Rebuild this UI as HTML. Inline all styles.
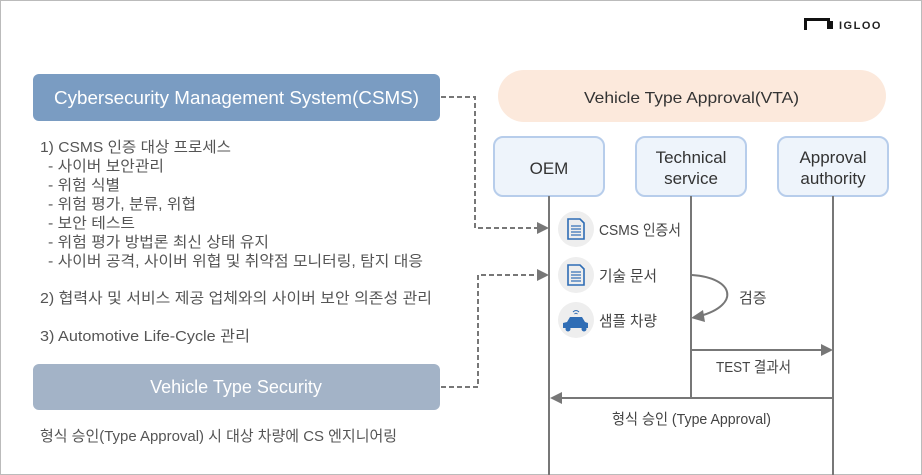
<!DOCTYPE html>
<html><head><meta charset="utf-8"><style>
body{margin:0;width:922px;height:475px;background:#fff;overflow:hidden;font-family:"Liberation Sans","Noto Sans CJK KR",sans-serif}
</style></head><body>
<svg width="922" height="475" xmlns="http://www.w3.org/2000/svg" style="position:absolute;left:0;top:0" font-family="Liberation Sans, Noto Sans CJK KR, sans-serif">
<rect x="0.5" y="0.5" width="921" height="474" fill="#fff" stroke="#bbb"/>
<rect x="804" y="18" width="3" height="12" fill="#111"/><rect x="804" y="18" width="26" height="3" fill="#111"/><rect x="827" y="21" width="6" height="8" fill="#111"/>
<text x="839" y="29" font-size="11" font-weight="bold" fill="#222" letter-spacing="1.5">IGLOO</text>
<rect x="33" y="74" width="407" height="47" rx="6" fill="#7a9cc2"/>
<text x="54" y="104" font-size="18" fill="#fff" textLength="365" lengthAdjust="spacingAndGlyphs">Cybersecurity Management System(CSMS)</text>
<rect x="33" y="364" width="407" height="46" rx="6" fill="#a3b3c7"/>
<text x="236" y="393" font-size="18" fill="#fff" text-anchor="middle">Vehicle Type Security</text>
<g font-size="15" fill="#555" lengthAdjust="spacingAndGlyphs">
<text x="40" y="152" textLength="191" lengthAdjust="spacingAndGlyphs">1) CSMS 인증 대상 프로세스</text>
<text x="48" y="171" textLength="116" lengthAdjust="spacingAndGlyphs">- 사이버 보안관리</text>
<text x="48" y="190" textLength="72" lengthAdjust="spacingAndGlyphs">- 위험 식별</text>
<text x="48" y="209" textLength="148" lengthAdjust="spacingAndGlyphs">- 위험 평가, 분류, 위협</text>
<text x="48" y="228" textLength="87" lengthAdjust="spacingAndGlyphs">- 보안 테스트</text>
<text x="48" y="247" textLength="221" lengthAdjust="spacingAndGlyphs">- 위험 평가 방법론 최신 상태 유지</text>
<text x="48" y="266" textLength="375" lengthAdjust="spacingAndGlyphs">- 사이버 공격, 사이버 위협 및 취약점 모니터링, 탐지 대응</text>
<text x="40" y="303" textLength="392" lengthAdjust="spacingAndGlyphs">2) 협력사 및 서비스 제공 업체와의 사이버 보안 의존성 관리</text>
<text x="40" y="341" textLength="210" lengthAdjust="spacingAndGlyphs">3) Automotive Life-Cycle 관리</text>
<text x="40" y="441" textLength="357" lengthAdjust="spacingAndGlyphs">형식 승인(Type Approval) 시 대상 차량에 CS 엔지니어링</text>
</g>
<rect x="498" y="70" width="388" height="52" rx="26" fill="#fce9dc"/>
<text x="584" y="103" font-size="16" fill="#333" textLength="215" lengthAdjust="spacingAndGlyphs">Vehicle Type Approval(VTA)</text>
<g fill="#eef4fb" stroke="#b7cdeb" stroke-width="2">
<rect x="494" y="137" width="110" height="59" rx="9"/><rect x="636" y="137" width="110" height="59" rx="9"/><rect x="778" y="137" width="110" height="59" rx="9"/>
</g>
<g font-size="17" fill="#333" text-anchor="middle">
<text x="549" y="174">OEM</text>
<text x="691" y="163">Technical</text><text x="691" y="184">service</text>
<text x="833" y="163">Approval</text><text x="833" y="184">authority</text>
</g>
<g stroke="#777" stroke-width="2">
<line x1="549" y1="196" x2="549" y2="475"/><line x1="691" y1="196" x2="691" y2="398"/><line x1="833" y1="196" x2="833" y2="475"/>
</g>
<g stroke="#777" stroke-width="2" fill="none" stroke-dasharray="5,3">
<polyline points="441,97 475,97 475,228 538,228"/>
<polyline points="441,387 478,387 478,275 538,275"/>
</g>
<polygon points="537,222 549,228 537,234" fill="#777"/>
<polygon points="537,269 549,275 537,281" fill="#777"/>
<g fill="#eee"><circle cx="576" cy="229" r="18"/><circle cx="576" cy="275" r="18"/><circle cx="576" cy="320" r="18"/></g>
<g fill="none" stroke="#2f6db5" stroke-width="1.6">
<path d="M568 219 h12 l4 4 v16 h-16z"/><path d="M568 265 h12 l4 4 v16 h-16z"/>
</g>
<g stroke="#2f6db5" stroke-width="1.2"><line x1="571" y1="226" x2="581" y2="226"/><line x1="571" y1="229" x2="581" y2="229"/><line x1="571" y1="232" x2="581" y2="232"/><line x1="571" y1="235" x2="581" y2="235"/>
<line x1="571" y1="272" x2="581" y2="272"/><line x1="571" y1="275" x2="581" y2="275"/><line x1="571" y1="278" x2="581" y2="278"/><line x1="571" y1="281" x2="581" y2="281"/></g>
<path d="M563 328 v-5 l4 -1 l3 -5 h12 l3 5 l3 1 v5z" fill="#2f6db5"/>
<circle cx="568" cy="329" r="2.5" fill="#2f6db5"/><circle cx="584" cy="329" r="2.5" fill="#2f6db5"/>
<path d="M573 312 q3 -3 6 0 M574.5 314 q1.5 -1.5 3 0" stroke="#2f6db5" fill="none"/>
<g font-size="15" fill="#444">
<text x="599" y="235" textLength="82" lengthAdjust="spacingAndGlyphs">CSMS 인증서</text>
<text x="599" y="281" textLength="58" lengthAdjust="spacingAndGlyphs">기술 문서</text>
<text x="599" y="326" textLength="58" lengthAdjust="spacingAndGlyphs">샘플 차량</text>
<text x="739" y="303">검증</text>
<text x="716" y="372" textLength="75" lengthAdjust="spacingAndGlyphs">TEST 결과서</text>
<text x="612" y="424" textLength="159" lengthAdjust="spacingAndGlyphs">형식 승인 (Type Approval)</text>
</g>
<path d="M692 275 C735 278 740 305 700 316" stroke="#777" stroke-width="2" fill="none"/>
<polygon points="691,318 703,310 705,322" fill="#777"/>
<line x1="691" y1="350" x2="822" y2="350" stroke="#777" stroke-width="2"/>
<polygon points="821,344 833,350 821,356" fill="#777"/>
<line x1="562" y1="398" x2="833" y2="398" stroke="#777" stroke-width="2"/>
<polygon points="562,392 550,398 562,404" fill="#777"/>
</svg>
</body></html>
